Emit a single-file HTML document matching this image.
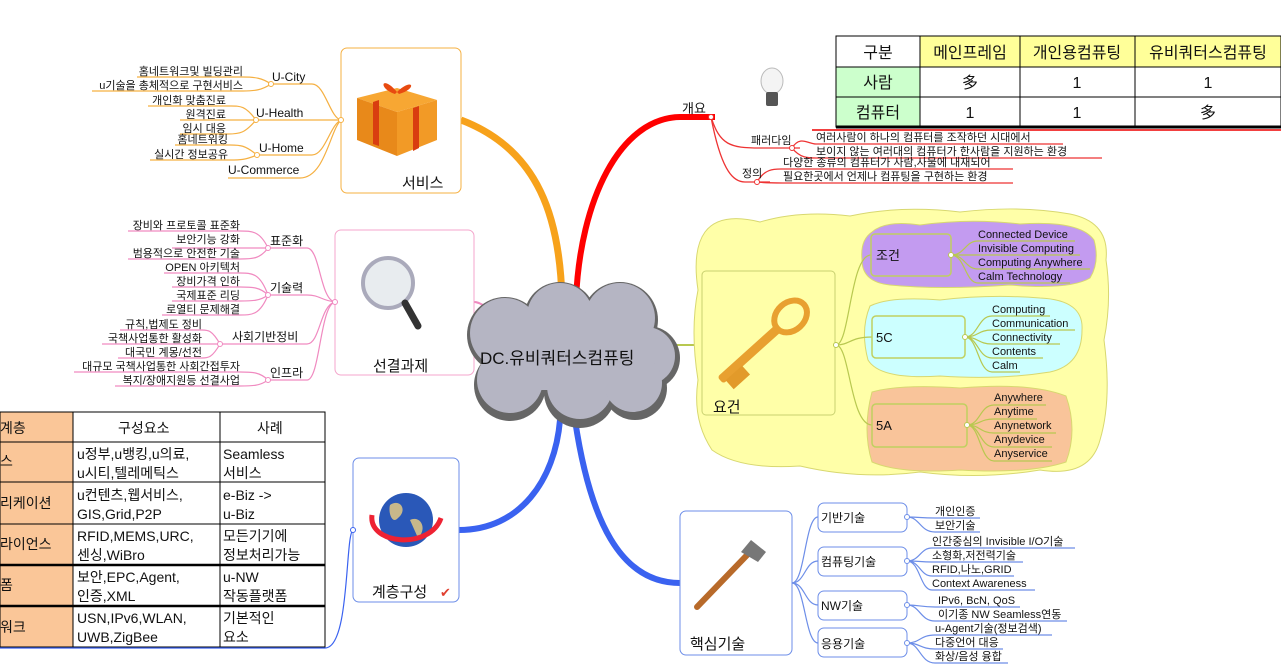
<!DOCTYPE html>
<html><head><meta charset="utf-8"><style>
html,body{margin:0;padding:0;background:#fff;}
svg{display:block;}
text{font-family:"Liberation Sans","Noto Sans CJK KR","NanumGothic",sans-serif;fill:#111;}
.s{font-size:11px;}
.m{font-size:13px;}
</style></head><body>
<svg width="1281" height="670" viewBox="0 0 1281 670" xmlns="http://www.w3.org/2000/svg">
<!-- main branches -->
<path d="M562 300 C560 220 540 150 461 120" stroke="#f7a21b" stroke-width="7" fill="none"/>
<path d="M576 300 C580 200 620 118 680 117 L715 117" stroke="#f00" stroke-width="6" fill="none"/>
<path d="M500 312 C480 305 480 302 474 302" stroke="#f08ac0" stroke-width="2" fill="none"/>
<path d="M560 420 C555 480 520 530 459 530" stroke="#3a62f0" stroke-width="6" fill="none"/>
<path d="M575 420 C590 520 620 583 680 583" stroke="#3a62f0" stroke-width="6" fill="none"/>
<path d="M675 345 L702 345" stroke="#b8c850" stroke-width="2" fill="none"/>

<!-- top-right table -->
<g stroke="#000" stroke-width="1">
<rect x="920" y="36" width="361" height="31" fill="#ffff99"/>
<rect x="836" y="36" width="84" height="31" fill="#fff"/>
<rect x="836" y="67" width="84" height="60" fill="#ccffcc"/>
<line x1="836" y1="67" x2="1281" y2="67"/><line x1="836" y1="97" x2="1281" y2="97"/>
<line x1="1020" y1="36" x2="1020" y2="127"/><line x1="1135" y1="36" x2="1135" y2="127"/>
<line x1="920" y1="36" x2="920" y2="127"/>
<rect x="836" y="36" width="445" height="91" fill="none"/>
</g>
<line x1="836" y1="127" x2="1281" y2="127" stroke="#000" stroke-width="3"/>
<line x1="812" y1="130" x2="1281" y2="130" stroke="#e00" stroke-width="1.5"/>
<g font-size="16" text-anchor="middle">
<text x="878" y="58">구분</text><text x="970" y="58">메인프레임</text><text x="1077" y="58">개인용컴퓨팅</text><text x="1208" y="58">유비쿼터스컴퓨팅</text>
<text x="878" y="88">사람</text><text x="970" y="88">多</text><text x="1077" y="88">1</text><text x="1208" y="88">1</text>
<text x="878" y="118">컴퓨터</text><text x="970" y="118">1</text><text x="1077" y="118">1</text><text x="1208" y="118">多</text>
</g>
<!-- bulb -->
<ellipse cx="772" cy="81" rx="11" ry="13" fill="#f4f4f4" stroke="#bbb"/>
<rect x="766" y="92" width="12" height="14" rx="2" fill="#555"/>

<!-- 개요 branch -->
<text x="682" y="113" class="m" fill="#000">개요</text>
<g stroke="#e33" stroke-width="1.3" fill="none">
<path d="M711 117 C720 145 730 148 760 148 L800 148"/>
<path d="M711 117 C722 175 735 182 745 182 L770 182"/>
<path d="M792 148 C800 135 808 144 816 144 L1063 144"/>
<path d="M792 148 C800 158 808 158 816 158 L1102 158"/>
<path d="M757 182 C765 168 775 169 783 169 L1013 169"/>
<path d="M757 182 C765 183 775 183 783 183 L1013 183"/>
</g>
<g fill="#fff" stroke="#e33"><circle cx="711" cy="117" r="2.5"/><circle cx="792" cy="148" r="2.5"/><circle cx="757" cy="182" r="2.5"/></g>
<text x="751" y="144" class="s">패러다임</text>
<text x="742" y="177" class="s">정의</text>
<text x="816" y="141" class="s">여러사람이 하나의 컴퓨터를 조작하던 시대에서</text>
<text x="816" y="155" class="s">보이지 않는 여러대의 컴퓨터가 한사람을 지원하는 환경</text>
<text x="783" y="166" class="s">다양한 종류의 컴퓨터가 사람,사물에 내재되어</text>
<text x="783" y="180" class="s">필요한곳에서 언제나 컴퓨팅을 구현하는 환경</text>

<!-- 서비스 -->
<rect x="341" y="48" width="120" height="145" rx="6" fill="#fff" stroke="#f5b042"/>
<g transform="translate(357,78)">
<polygon points="0,20 40,10 80,22 40,34" fill="#f7a733"/>
<polygon points="0,20 40,34 40,78 0,62" fill="#e8891a"/>
<polygon points="40,34 80,22 80,62 40,78" fill="#f29a26"/>
<polygon points="16,24 22,22 22,68 16,66" fill="#d93d10"/>
<polygon points="56,30 62,28 62,70 56,73" fill="#d93d10"/>
<path d="M40 14 C25 -4 20 10 38 16 C55 -2 62 10 42 16" fill="#e84a10"/>
</g>
<text x="402" y="188" font-size="15">서비스</text>
<g stroke="#f5b042" stroke-width="1.2" fill="none">
<path d="M341 120 C330 118 325 84 312 84 L270 84"/>
<path d="M341 120 L256 120"/>
<path d="M341 120 C330 125 325 155 312 155 L257 155"/>
<path d="M341 120 C330 130 325 178 300 178 L228 178"/>
<path d="M271 84 C262 78 255 77 243 77 L137 77"/>
<path d="M271 84 C262 90 255 91 243 91 L92 91"/>
<path d="M256 120 C245 105 240 106 228 106 L148 106"/>
<path d="M256 120 L180 120"/>
<path d="M256 120 C245 133 240 134 228 134 L180 134"/>
<path d="M257 155 C245 145 240 145 230 145 L175 145"/>
<path d="M257 155 C245 160 240 160 230 160 L150 160"/>
</g>
<g fill="#fff" stroke="#f5b042"><circle cx="341" cy="120" r="2.5"/><circle cx="271" cy="84" r="2.5"/><circle cx="256" cy="120" r="2.5"/><circle cx="257" cy="155" r="2.5"/></g>
<g class="s">
<text x="272" y="81" font-size="12">U-City</text>
<text x="256" y="117" font-size="12">U-Health</text>
<text x="259" y="152" font-size="12">U-Home</text>
<text x="228" y="174" font-size="12">U-Commerce</text>
</g>
<g class="s" text-anchor="end">
<text x="243" y="75">홈네트워크및 빌딩관리</text>
<text x="243" y="89">u기술을 총체적으로 구현서비스</text>
<text x="226" y="104">개인화 맞춤진료</text>
<text x="226" y="118">원격진료</text>
<text x="226" y="132">임시 대응</text>
<text x="228" y="143">홈네트워킹</text>
<text x="228" y="158">실시간 정보공유</text>
</g>

<!-- 선결과제 -->
<rect x="335" y="230" width="139" height="145" rx="6" fill="#fff" stroke="#f4a6cc"/>
<circle cx="388" cy="283" r="25" fill="#e8ecef" stroke="#aab" stroke-width="4"/>
<line x1="405" y1="303" x2="418" y2="326" stroke="#333" stroke-width="7" stroke-linecap="round"/>
<text x="373" y="371" font-size="15">선결과제</text>
<g stroke="#f08ac0" stroke-width="1.2" fill="none">
<path d="M335 302 C320 300 320 248 307 248 L268 248"/>
<path d="M335 302 C320 300 320 295 307 295 L268 295"/>
<path d="M335 302 C320 305 320 344 307 344 L220 344"/>
<path d="M335 302 C320 305 320 380 307 380 L268 380"/>
<path d="M268 248 C260 231 252 231 240 231 L128 231"/>
<path d="M268 248 L172 248"/>
<path d="M268 248 C260 259 252 259 240 259 L128 259"/>
<path d="M268 295 C260 273 252 273 240 273 L164 273"/>
<path d="M268 295 C260 287 252 287 240 287 L172 287"/>
<path d="M268 295 C260 301 252 301 240 301 L172 301"/>
<path d="M268 295 C260 315 252 315 240 315 L162 315"/>
<path d="M220 344 C212 330 208 330 202 330 L120 330"/>
<path d="M220 344 L102 344"/>
<path d="M220 344 C212 358 208 358 202 358 L118 358"/>
<path d="M268 380 C260 372 252 372 240 372 L74 372"/>
<path d="M268 380 C260 386 252 386 240 386 L115 386"/>
</g>
<g fill="#fff" stroke="#f08ac0"><circle cx="335" cy="302" r="2.5"/><circle cx="268" cy="248" r="2.5"/><circle cx="268" cy="295" r="2.5"/><circle cx="220" cy="344" r="2.5"/><circle cx="268" cy="380" r="2.5"/></g>
<g font-size="12"><text x="270" y="245">표준화</text><text x="270" y="292">기술력</text><text x="232" y="341">사회기반정비</text><text x="270" y="377">인프라</text></g>
<g class="s" text-anchor="end">
<text x="240" y="229">장비와 프로토콜 표준화</text>
<text x="240" y="243">보안기능 강화</text>
<text x="240" y="257">범용적으로 안전한 기술</text>
<text x="240" y="271">OPEN 아키텍처</text>
<text x="240" y="285">장비가격 인하</text>
<text x="240" y="299">국제표준 리딩</text>
<text x="240" y="313">로열티 문제해결</text>
<text x="202" y="328">규칙,법제도 정비</text>
<text x="202" y="342">국책사업통한 활성화</text>
<text x="202" y="356">대국민 계몽/선전</text>
<text x="240" y="370">대규모 국책사업통한 사회간접투자</text>
<text x="240" y="384">복지/장애지원등 선결사업</text>
</g>

<!-- left table -->
<g stroke="#000" stroke-width="1">
<rect x="0" y="412" width="73" height="235" fill="#fac698"/>
<rect x="73" y="412" width="252" height="235" fill="#fff"/>
<line x1="220" y1="412" x2="220" y2="647"/>
<line x1="0" y1="442" x2="325" y2="442"/><line x1="0" y1="482" x2="325" y2="482"/><line x1="0" y1="524" x2="325" y2="524"/>
</g>
<line x1="0" y1="565" x2="325" y2="565" stroke="#000" stroke-width="2.5"/>
<line x1="0" y1="606" x2="325" y2="606" stroke="#000" stroke-width="2.5"/>
<g font-size="14">
<text x="0" y="433">계층</text><text x="118" y="433">구성요소</text><text x="257" y="433">사례</text>
<text x="0" y="466">스</text>
<text x="0" y="508">리케이션</text>
<text x="0" y="549">라이언스</text>
<text x="0" y="590">폼</text>
<text x="0" y="632">워크</text>
<text x="77" y="459">u정부,u뱅킹,u의료,</text><text x="77" y="478">u시티,텔레메틱스</text>
<text x="223" y="459">Seamless</text><text x="223" y="478">서비스</text>
<text x="77" y="500">u컨텐츠,웹서비스,</text><text x="77" y="519">GIS,Grid,P2P</text>
<text x="223" y="500">e-Biz -&gt;</text><text x="223" y="519">u-Biz</text>
<text x="77" y="541">RFID,MEMS,URC,</text><text x="77" y="560">센싱,WiBro</text>
<text x="223" y="541">모든기기에</text><text x="223" y="560">정보처리가능</text>
<text x="77" y="582">보안,EPC,Agent,</text><text x="77" y="601">인증,XML</text>
<text x="223" y="582">u-NW</text><text x="223" y="601">작동플랫폼</text>
<text x="77" y="623">USN,IPv6,WLAN,</text><text x="77" y="642">UWB,ZigBee</text>
<text x="223" y="623">기본적인</text><text x="223" y="642">요소</text>
</g>
<path d="M353 530 C345 535 350 648 325 648 L0 648" stroke="#3a62f0" stroke-width="1.2" fill="none"/>

<!-- 계층구성 -->
<rect x="353" y="458" width="106" height="144" rx="6" fill="#fff" stroke="#6d8ee8"/>
<circle cx="406" cy="520" r="27" fill="#2a58b8"/>
<path d="M390 505 C400 498 408 510 398 518 C392 525 388 512 390 505Z M410 520 C420 515 428 528 418 538 Z" fill="#c8b88a"/>
<path d="M372 515 C368 545 430 550 441 518" stroke="#e23" stroke-width="5" fill="none"/>
<circle cx="353" cy="530" r="2.5" fill="#fff" stroke="#3a62f0"/>
<text x="372" y="597" font-size="15">계층구성</text>
<text x="440" y="597" font-size="13" fill="#e33" style="fill:#e04030">✔</text>

<!-- 핵심기술 -->
<rect x="680" y="511" width="112" height="144" rx="6" fill="#fff" stroke="#6d8ee8"/>
<line x1="697" y1="607" x2="750" y2="552" stroke="#b86a2a" stroke-width="6" stroke-linecap="round"/>
<polygon points="741,552 751,540 766,552 758,562" fill="#777"/>
<text x="690" y="649" font-size="15">핵심기술</text>
<g stroke="#6d8ee8" stroke-width="1.2" fill="none">
<path d="M792 583 C805 583 805 517 818 517"/>
<path d="M792 583 C805 583 805 561 818 561"/>
<path d="M792 583 C805 583 805 605 818 605"/>
<path d="M792 583 C805 583 805 643 818 643"/>
<path d="M907 517 C920 517 920 518 935 518 L980 518"/>
<path d="M907 517 C920 517 920 532 935 532 L980 532"/>
<path d="M907 561 C920 561 920 548 932 548 L1075 548"/>
<path d="M907 561 C920 561 920 562 932 562 L1023 562"/>
<path d="M907 561 C920 561 920 576 932 576 L1014 576"/>
<path d="M907 561 C920 561 920 590 932 590 L1035 590"/>
<path d="M907 605 C920 605 920 607 935 607 L1020 607"/>
<path d="M907 605 C920 605 920 621 935 621 L1067 621"/>
<path d="M907 643 C920 643 920 635 935 635 L1052 635"/>
<path d="M907 643 C920 643 920 649 935 649 L1003 649"/>
<path d="M907 643 C920 643 920 663 935 663 L1008 663"/>
</g>
<g fill="#fff" stroke="#6d8ee8" stroke-width="1">
<rect x="818" y="503" width="89" height="29" rx="6"/>
<rect x="818" y="547" width="89" height="29" rx="6"/>
<rect x="818" y="591" width="89" height="29" rx="6"/>
<rect x="818" y="628" width="89" height="29" rx="6"/>
<circle cx="907" cy="517" r="2.5"/><circle cx="907" cy="561" r="2.5"/><circle cx="907" cy="605" r="2.5"/><circle cx="907" cy="643" r="2.5"/>
</g>
<g font-size="12"><text x="821" y="522">기반기술</text><text x="821" y="566">컴퓨팅기술</text><text x="821" y="610" fill="#333">NW기술</text><text x="821" y="648">응용기술</text></g>
<g class="s">
<text x="935" y="515">개인인증</text><text x="935" y="529">보안기술</text>
<text x="932" y="545">인간중심의 Invisible I/O기술</text><text x="932" y="559">소형화,저전력기술</text><text x="932" y="573">RFID,나노,GRID</text><text x="932" y="587">Context Awareness</text>
<text x="938" y="604">IPv6, BcN, QoS</text><text x="938" y="618">이기종 NW Seamless연동</text>
<text x="935" y="632">u-Agent기술(정보검색)</text><text x="935" y="646">다중언어 대응</text><text x="935" y="660">화상/음성 융합</text>
</g>

<!-- 요건 yellow cloud -->
<path d="M705 232 Q720 212 760 222 Q800 210 850 216 Q900 205 960 212 Q1020 205 1070 214 Q1110 222 1106 260 Q1112 300 1104 340 Q1112 400 1100 440 Q1090 478 1040 470 Q980 480 920 472 Q860 480 800 466 Q740 470 712 450 Q692 420 698 380 Q690 330 698 290 Q692 250 705 232Z" fill="#ffffa8" stroke="#d8d870"/>
<path d="M872 232 Q885 220 920 225 Q970 218 1020 224 Q1080 220 1094 240 Q1100 262 1090 278 Q1070 290 1010 285 Q940 290 890 285 Q862 282 862 260 Q860 240 872 232Z" fill="#c39bf0" stroke="#d8d870"/>
<path d="M870 306 Q890 296 940 300 Q990 294 1040 298 Q1084 300 1082 330 Q1082 365 1050 372 Q1000 380 940 376 Q880 380 868 360 Q860 330 870 306Z" fill="#ccffff" stroke="#d8d870"/>
<path d="M872 392 Q900 384 960 388 Q1030 382 1066 396 Q1078 430 1066 462 Q1030 474 960 470 Q900 474 872 462 Q862 430 872 392Z" fill="#f9c49a" stroke="#d8d870"/>
<rect x="702" y="271" width="133" height="144" rx="4" fill="#ffffa8" stroke="#c8d070"/>
<g transform="translate(720,380) rotate(-42)">
<rect x="0" y="-4" width="80" height="9" rx="3" fill="#e8a030"/>
<rect x="4" y="4" width="22" height="12" fill="#e29a2a"/>
<ellipse cx="95" cy="0" rx="18" ry="14" fill="none" stroke="#e8a030" stroke-width="6"/>
</g>
<text x="713" y="412" font-size="15">요건</text>
<g stroke="#b8c850" stroke-width="1.2" fill="none">
<path d="M836 345 C850 345 850 255 871 255"/>
<path d="M836 345 C850 345 850 337 872 337"/>
<path d="M836 345 C850 345 850 425 872 425"/>
<path d="M951 255 C965 255 965 241 978 241 L1075 241"/>
<path d="M951 255 C965 255 965 255 978 255 L1080 255"/>
<path d="M951 255 C965 255 965 269 978 269 L1090 269"/>
<path d="M951 255 C965 255 965 283 978 283 L1070 283"/>
<path d="M965 337 C978 337 978 316 992 316 L1050 316"/>
<path d="M965 337 C978 337 978 330 992 330 L1075 330"/>
<path d="M965 337 C978 337 978 344 992 344 L1060 344"/>
<path d="M965 337 C978 337 978 358 992 358 L1043 358"/>
<path d="M965 337 C978 337 978 372 992 372 L1020 372"/>
<path d="M967 425 C980 425 980 405 994 405 L1046 405"/>
<path d="M967 425 C980 425 980 419 994 419 L1037 419"/>
<path d="M967 425 C980 425 980 433 994 433 L1056 433"/>
<path d="M967 425 C980 425 980 447 994 447 L1052 447"/>
<path d="M967 425 C980 425 980 461 994 461 L1052 461"/>
</g>
<g fill="none" stroke="#c0d060" stroke-width="1.5">
<rect x="871" y="234" width="80" height="42" rx="4"/>
<rect x="872" y="316" width="93" height="42" rx="4"/>
<rect x="872" y="404" width="95" height="43" rx="4"/>
</g>
<g fill="#fff" stroke="#b8c850"><circle cx="836" cy="345" r="2.5"/><circle cx="951" cy="255" r="2.5"/><circle cx="965" cy="337" r="2.5"/><circle cx="967" cy="425" r="2.5"/></g>
<g font-size="13"><text x="876" y="260">조건</text><text x="876" y="342">5C</text><text x="876" y="430">5A</text></g>
<g class="s">
<text x="978" y="238">Connected Device</text><text x="978" y="252">Invisible Computing</text><text x="978" y="266">Computing Anywhere</text><text x="978" y="280">Calm Technology</text>
<text x="992" y="313">Computing</text><text x="992" y="327">Communication</text><text x="992" y="341">Connectivity</text><text x="992" y="355">Contents</text><text x="992" y="369">Calm</text>
<text x="994" y="401">Anywhere</text><text x="994" y="415">Anytime</text><text x="994" y="429">Anynetwork</text><text x="994" y="443">Anydevice</text><text x="994" y="457">Anyservice</text>
</g>

<!-- central cloud -->
<g fill="#666">
<circle cx="505" cy="335" r="38"/><circle cx="560" cy="318" r="36"/><circle cx="620" cy="320" r="38"/><circle cx="648" cy="358" r="32"/>
<circle cx="510" cy="385" r="36"/><circle cx="580" cy="392" r="36"/><circle cx="635" cy="388" r="32"/>
</g>
<g fill="#b5b5c3">
<circle cx="505" cy="333" r="35"/><circle cx="560" cy="316" r="33"/><circle cx="620" cy="318" r="35"/><circle cx="646" cy="356" r="29"/>
<circle cx="510" cy="380" r="33"/><circle cx="580" cy="386" r="33"/><circle cx="633" cy="383" r="29"/>
<rect x="490" y="320" width="160" height="70"/>
</g>
<text x="480" y="364" font-size="17">DC.유비쿼터스컴퓨팅</text>
</svg>
</body></html>
